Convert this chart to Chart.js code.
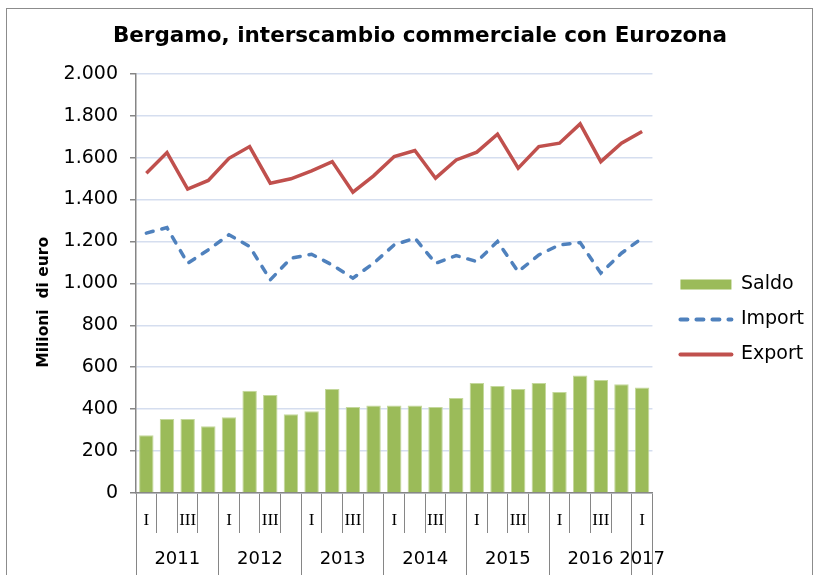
<!DOCTYPE html>
<html>
<head>
    <title>Bergamo, interscambio commerciale con Eurozona</title>
    <script src="https://cdn.jsdelivr.net/npm/chart.js"></script>
    <style>
        body { margin: 0; background: #fff; }
        .frame {
            position: absolute;
            left: 6px; top: 8px;
            width: 805px; height: 620px;
            border: 1px solid #8c8c8c;
        }
        .chart-container {
            position: absolute;
            left: 0; top: 0;
            width: 814px; height: 575px;
        }
    </style>
</head>
<body>
    <div class="frame"></div>
    <div class="chart-container">
        <canvas id="tradeChart"></canvas>
    </div>

    <script>
        // quarters 2011 Q1 .. 2017 Q1
        var quarterLabels = ['I', '', 'III', '', 'I', '', 'III', '', 'I', '', 'III', '', 'I', '', 'III', '',
                             'I', '', 'III', '', 'I', '', 'III', '', 'I'];
        var years = ['2011', '2012', '2013', '2014', '2015', '2016', '2017'];
        var quartersPerYear = [4, 4, 4, 4, 4, 4, 1];

        var saldo = [275, 353, 353, 318, 361, 488, 468, 376, 390, 496, 410, 417, 417,
                     417, 410, 453, 525, 511, 496, 525, 482, 560, 539, 519, 503];
        var importVals = [1240, 1266, 1096, 1160, 1232, 1176, 1017, 1120, 1139, 1088, 1025, 1096, 1184,
                          1216, 1096, 1133, 1104, 1200, 1056, 1136, 1184, 1195, 1049, 1144, 1216];
        var exportVals = [1526, 1624, 1450, 1491, 1597, 1653, 1478, 1499, 1537, 1581, 1435, 1513, 1605,
                          1634, 1502, 1589, 1626, 1712, 1550, 1653, 1669, 1761, 1581, 1669, 1725];

        var axisGray = '#868686';
        var gridBlue = '#d5deef';

        // year row ticks: boundary ticks (no label) and centre ticks (year label)
        var yearTicks = [];
        var start = 0;
        years.forEach(function(y, i) {
            var n = quartersPerYear[i];
            yearTicks.push({value: start - 0.5, label: ''});
            yearTicks.push({value: start + (n - 1) / 2, label: y});
            start += n;
        });
        yearTicks.push({value: start - 0.5, label: ''});

        function fmt(v) {
            return String(v).replace(/\B(?=(\d{3})+(?!\d))/g, '.');
        }

        var ctx = document.getElementById('tradeChart').getContext('2d');
        var tradeChart = new Chart(ctx, {
            type: 'bar',
            data: {
                labels: quarterLabels,
                datasets: [
                    {label: 'Saldo', type: 'bar', data: saldo, backgroundColor: '#9bbb59',
                     borderColor: '#c4d89c', borderWidth: 1, categoryPercentage: 1, barPercentage: 0.7, order: 3},
                    {label: 'Import', type: 'line', data: importVals, borderColor: '#4f81bd', borderWidth: 3.5,
                     borderDash: [7, 9], borderCapStyle: 'round', pointRadius: 0, tension: 0, order: 2},
                    {label: 'Export', type: 'line', data: exportVals, borderColor: '#c0504d', borderWidth: 3.5,
                     pointRadius: 0, tension: 0, order: 1}
                ]
            },
            options: {
                responsive: true,
                maintainAspectRatio: false,
                animation: false,
                layout: {padding: {left: 26, right: 0, top: 10, bottom: 0}},
                plugins: {
                    title: {
                        display: true,
                        text: 'Bergamo, interscambio commerciale con Eurozona',
                        color: '#000',
                        font: {family: 'DejaVu Sans', size: 21.5, weight: 'bold'},
                        padding: {top: 14, bottom: 24}
                    },
                    legend: {
                        position: 'right',
                        maxWidth: 200,
                        title: {display: true, text: ' ', font: {size: 10}, padding: {top: 42, bottom: 0}},
                        labels: {
                            color: '#000',
                            font: {family: 'DejaVu Sans', size: 19},
                            usePointStyle: true,
                            pointStyleWidth: 51,
                            boxHeight: 10,
                            padding: 16,
                            generateLabels: function(chart) {
                                return chart.data.datasets.map(function(ds, i) {
                                    var isBar = ds.type === 'bar';
                                    return {
                                        text: ds.label,
                                        datasetIndex: i,
                                        fillStyle: isBar ? ds.backgroundColor : ds.borderColor,
                                        strokeStyle: isBar ? ds.backgroundColor : ds.borderColor,
                                        lineWidth: isBar ? 0 : 4,
                                        lineDash: ds.borderDash || [],
                                        lineCap: isBar ? 'butt' : 'round',
                                        pointStyle: isBar ? 'rect' : 'line',
                                        fontColor: '#000'
                                    };
                                });
                            }
                        }
                    },
                    tooltip: {enabled: false}
                },
                scales: {
                    x: {
                        type: 'category',
                        position: 'bottom',
                        grid: {offset: true, drawOnChartArea: false, drawTicks: true, tickLength: 40,
                               tickColor: axisGray, tickWidth: 1},
                        border: {color: axisGray, width: 1.5},
                        ticks: {autoSkip: false, maxRotation: 0, padding: -23, color: '#000',
                                font: {family: 'Liberation Serif', size: 17}},
                        afterFit: function(s) { s.height = 40; }
                    },
                    x2: {
                        type: 'linear',
                        position: 'bottom',
                        offset: false,
                        min: -0.5,
                        max: quarterLabels.length - 0.5,
                        afterBuildTicks: function(s) {
                            s.ticks = yearTicks.map(function(t) { return {value: t.value}; });
                        },
                        grid: {offset: false, drawOnChartArea: false, drawTicks: true, tickLength: 42, tickWidth: 1,
                               tickColor: function(c) {
                                   return yearTicks[c.index] && yearTicks[c.index].label === '' ? axisGray : 'rgba(0,0,0,0)';
                               }},
                        border: {display: false},
                        ticks: {autoSkip: false, maxRotation: 0, padding: -26, color: '#000',
                                font: {family: 'DejaVu Sans', size: 18},
                                callback: function(v, i) { return yearTicks[i] ? yearTicks[i].label : ''; }},
                        afterFit: function(s) { s.height = 42; }
                    },
                    y: {
                        min: 0,
                        max: 2000,
                        ticks: {stepSize: 200, padding: 12, color: '#000',
                                font: {family: 'DejaVu Sans', size: 19},
                                callback: function(v) { return fmt(v); }},
                        grid: {color: gridBlue, lineWidth: 1.5, tickColor: axisGray, tickLength: 6},
                        border: {color: axisGray, width: 1.5},
                        // trailing spaces push the visible words a little down, as in the original
                        title: {display: true, text: 'Milioni  di euro       ', color: '#000',
                                font: {family: 'DejaVu Sans', size: 15.5, weight: 'bold'},
                                padding: {top: 9, bottom: 0}},
                        afterFit: function(s) { s.width = 110; }
                    },
                    // empty spacer between plot and legend
                    gap: {
                        type: 'linear',
                        axis: 'y',
                        position: 'right',
                        grid: {display: false},
                        ticks: {display: false},
                        border: {display: false},
                        afterFit: function(s) { s.width = 12; }
                    }
                }
            }
        });
    </script>
</body>
</html>
